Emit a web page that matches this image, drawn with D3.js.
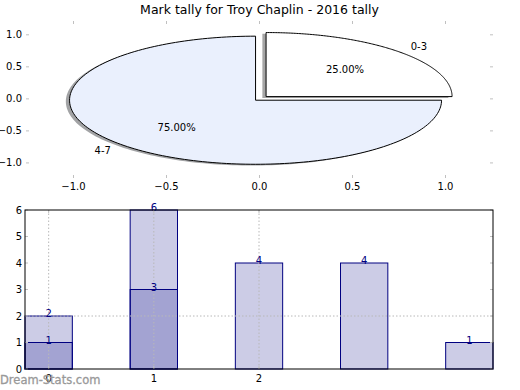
<!DOCTYPE html>
<html>
<head>
<meta charset="utf-8">
<script src="https://cdn.jsdelivr.net/npm/d3@7"></script>
<style>
  html, body { margin: 0; padding: 0; background: #fff; }
  svg { display: block; font-family: "DejaVu Sans", sans-serif; }
</style>
</head>
<body>
<svg id="chart" width="520" height="390"></svg>
<script>
// ---- data ----
const titleText = "Mark tally for Troy Chaplin - 2016 tally";
const pieLabels = ["0-3", "4-7"];
const pieValues = [25, 75];
const pieColors = ["#ffffff", "#eaf0fd"];
const pieExplode = [0.05, 0.03];
const pieXTicks = [-1, -0.5, 0, 0.5, 1];
const pieYTicks = [-1, -0.5, 0, 0.5, 1];

const barCategories = [0, 1, 2, 3, 4];
const seriesTotal = [2, 6, 4, 4, 1];
const seriesLow = [1, 3, 0, 0, 0];
const barXTicks = [0, 1, 2];
const barXTickLabels = ["0", "1", "2"];
const barYTicks = [0, 1, 2, 3, 4, 5, 6];
const gridX = [0, 1, 2];
const gridY = [2];
const watermark = "Dream-Stats.com";

const svg = d3.select("#chart");
const fmt = d => d.toFixed(1).replace("-", "\u2212");

// ---- title ----
svg.append("text").attr("x", 259.5).attr("y", 14)
  .attr("text-anchor", "middle").attr("font-size", 12.5).attr("fill", "#000")
  .text(titleText);

// ---- pie axes ----
const px = d3.scaleLinear().domain([-1.25, 1.25]).range([27, 492]);
const py = d3.scaleLinear().domain([-1.22, 1.2]).range([177, 22]);
const tickCol = "#c0c0c0";
const gP = svg.append("g");

pieXTicks.forEach(t => {
  gP.append("line").attr("x1", px(t)).attr("x2", px(t)).attr("y1", py(1.2) - 1).attr("y2", py(1.2) + 2).attr("stroke", tickCol);
  gP.append("line").attr("x1", px(t)).attr("x2", px(t)).attr("y1", py(-1.22) - 2).attr("y2", py(-1.22) + 1).attr("stroke", tickCol);
  gP.append("text").attr("x", px(t)).attr("y", 190).attr("text-anchor", "middle")
    .attr("font-size", 10).text(fmt(t));
});
pieYTicks.forEach(t => {
  gP.append("line").attr("x1", px(-1.25) - 1).attr("x2", px(-1.25) + 2).attr("y1", py(t)).attr("y2", py(t)).attr("stroke", tickCol);
  gP.append("line").attr("x1", px(1.25) - 2).attr("x2", px(1.25) + 1).attr("y1", py(t)).attr("y2", py(t)).attr("stroke", tickCol);
  gP.append("text").attr("x", 22).attr("y", py(t)).attr("dy", "0.35em").attr("text-anchor", "end")
    .attr("font-size", 10).text(fmt(t));
});

const pie = d3.pie().sort(null).startAngle(0).endAngle(2 * Math.PI);
const arcs = pie(pieValues);
const line = d3.line().x(d => px(d[0])).y(d => py(d[1]));
function wedgePts(a, ox, oy) {
  const pts = [[ox, oy]];
  const n = 180;
  for (let k = 0; k <= n; k++) {
    const t = a.startAngle + (a.endAngle - a.startAngle) * k / n;
    pts.push([ox + Math.cos(t), oy + Math.sin(t)]);
  }
  return pts;
}
function shade(c) {
  const r = d3.rgb(c);
  return d3.rgb(r.r * 0.3, r.g * 0.3, r.b * 0.3).toString();
}
const total = d3.sum(pieValues);
// shadows
arcs.forEach((a, i) => {
  const m = (a.startAngle + a.endAngle) / 2;
  const ox = pieExplode[i] * Math.cos(m) - 0.02, oy = pieExplode[i] * Math.sin(m) - 0.02;
  gP.append("path").attr("d", line(wedgePts(a, ox, oy)) + "Z")
    .attr("fill", shade(pieColors[i])).attr("fill-opacity", 0.5).attr("stroke", "none");
});
// wedges
arcs.forEach((a, i) => {
  const m = (a.startAngle + a.endAngle) / 2;
  const ox = pieExplode[i] * Math.cos(m), oy = pieExplode[i] * Math.sin(m);
  gP.append("path").attr("d", line(wedgePts(a, ox, oy)) + "Z")
    .attr("fill", pieColors[i]).attr("stroke", "#000").attr("stroke-width", 1)
    .attr("stroke-linejoin", "miter");
});
// labels
arcs.forEach((a, i) => {
  const m = (a.startAngle + a.endAngle) / 2;
  const ox = pieExplode[i] * Math.cos(m), oy = pieExplode[i] * Math.sin(m);
  const lx = ox + 1.1 * Math.cos(m), ly = oy + 1.1 * Math.sin(m);
  gP.append("text").attr("x", px(lx)).attr("y", py(ly)).attr("dy", "0.35em")
    .attr("text-anchor", Math.cos(m) > 0 ? "start" : "end")
    .attr("font-size", 10).text(pieLabels[i]);
  const tx = ox + 0.6 * Math.cos(m), ty = oy + 0.6 * Math.sin(m);
  gP.append("text").attr("x", px(tx)).attr("y", py(ty)).attr("dy", "0.35em")
    .attr("text-anchor", "middle").attr("font-size", 10)
    .text((pieValues[i] / total * 100).toFixed(2) + "%");
});

// ---- bar axes ----
const bw = 0.45;
const bx = d3.scaleLinear().domain([-bw / 2, 4 + bw / 2]).range([25, 493]);
const by = d3.scaleLinear().domain([0, 6]).range([369, 210]);
const gB = svg.append("g");
const navy = "#000080";

function drawBars(vals) {
  gB.selectAll(null).data(barCategories).enter().append("rect")
    .attr("x", c => bx(c - bw / 2)).attr("width", c => bx(c + bw / 2) - bx(c - bw / 2))
    .attr("y", (c, i) => by(vals[i])).attr("height", (c, i) => by(0) - by(vals[i]))
    .attr("fill", navy).attr("fill-opacity", 0.2).attr("stroke", navy).attr("stroke-width", 1);
}
drawBars(seriesTotal);
drawBars(seriesLow);

// grid
gridX.forEach(g => {
  gB.append("line").attr("x1", bx(g)).attr("x2", bx(g)).attr("y1", by(0)).attr("y2", by(6))
    .attr("stroke", "#b8b8b8").attr("stroke-dasharray", "1.5,2");
});
gridY.forEach(g => {
  gB.append("line").attr("x1", bx(-bw / 2)).attr("x2", bx(4 + bw / 2)).attr("y1", by(g)).attr("y2", by(g))
    .attr("stroke", "#b8b8b8").attr("stroke-dasharray", "1.5,2");
});

// value labels
function drawLabels(vals) {
  barCategories.forEach((c, i) => {
    if (vals[i] === 0) return;
    gB.append("text").attr("x", bx(c)).attr("y", by(vals[i]) + 1)
      .attr("text-anchor", "middle").attr("font-size", 10).attr("fill", navy).text(vals[i]);
  });
}
drawLabels(seriesTotal);
drawLabels(seriesLow);

// ticks
barYTicks.forEach(t => {
  gB.append("line").attr("x1", bx(-bw / 2)).attr("x2", bx(-bw / 2) + 3).attr("y1", by(t)).attr("y2", by(t)).attr("stroke", tickCol);
  gB.append("line").attr("x1", bx(4 + bw / 2) - 3).attr("x2", bx(4 + bw / 2)).attr("y1", by(t)).attr("y2", by(t)).attr("stroke", tickCol);
  gB.append("text").attr("x", 22).attr("y", by(t)).attr("dy", "0.35em").attr("text-anchor", "end")
    .attr("font-size", 10).text(t);
});
barXTicks.forEach((t, i) => {
  gB.append("line").attr("x1", bx(t)).attr("x2", bx(t)).attr("y1", by(0) - 3).attr("y2", by(0)).attr("stroke", tickCol);
  gB.append("line").attr("x1", bx(t)).attr("x2", bx(t)).attr("y1", by(6)).attr("y2", by(6) + 3).attr("stroke", tickCol);
  gB.append("text").attr("x", bx(t)).attr("y", 382).attr("text-anchor", "middle")
    .attr("font-size", 10).text(barXTickLabels[i]);
});

// frame
gB.append("rect").attr("x", bx(-bw / 2)).attr("y", by(6))
  .attr("width", bx(4 + bw / 2) - bx(-bw / 2)).attr("height", by(0) - by(6))
  .attr("fill", "none").attr("stroke", "#000").attr("stroke-width", 1);

// watermark
svg.append("text").attr("x", 0).attr("y", 384).attr("font-size", 11.5)
  .attr("fill", "#999").attr("stroke", "#999").attr("stroke-width", 0.3)
  .text(watermark);
</script>
</body>
</html>
